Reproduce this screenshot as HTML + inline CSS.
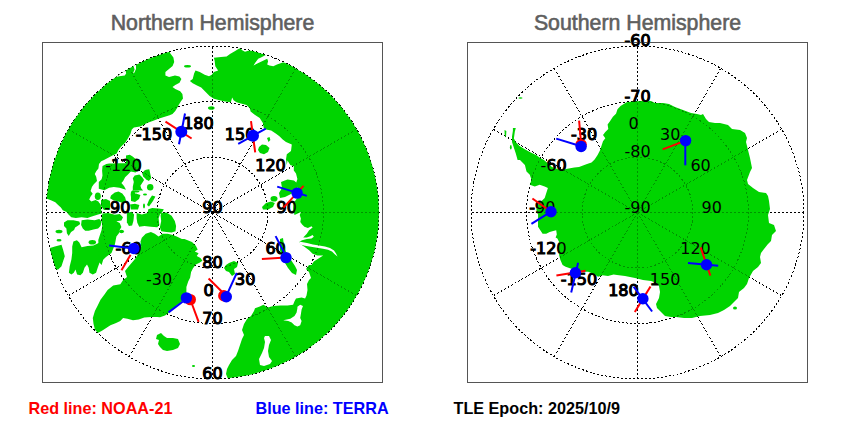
<!DOCTYPE html>
<html><head><meta charset="utf-8">
<style>
html,body{margin:0;padding:0;background:#fff;}
body{width:850px;height:425px;overflow:hidden;position:relative;}
svg{position:absolute;left:0;top:0;}
.lab{font-family:"DejaVu Sans",sans-serif;font-size:16px;fill:#000;}
.labb{stroke:#000;stroke-width:1.0px;}
.title{font-family:"Liberation Sans",Arial,sans-serif;font-size:21.3px;fill:#5f5f5f;stroke:#5f5f5f;stroke-width:0.6px;}
.leg{font-family:"Liberation Sans",Arial,sans-serif;font-size:16.2px;font-weight:bold;}
</style></head><body>
<svg width="850" height="425" viewBox="0 0 850 425">
<defs>
<clipPath id="cl"><circle cx="212.5" cy="212.5" r="166.5"/></clipPath>
<clipPath id="cr"><circle cx="637.5" cy="212.5" r="166.5"/></clipPath>
</defs>
<text class="title" x="212.5" y="30.3" text-anchor="middle">Northern Hemisphere</text>
<text class="title" x="637.5" y="30.3" text-anchor="middle">Southern Hemisphere</text>
<circle cx="212.5" cy="212.5" r="55.5" stroke="#000" stroke-width="1" stroke-dasharray="2 2" fill="none" shape-rendering="crispEdges"/>
<circle cx="212.5" cy="212.5" r="111.0" stroke="#000" stroke-width="1" stroke-dasharray="2 2" fill="none" shape-rendering="crispEdges"/>
<circle cx="212.5" cy="212.5" r="166.5" stroke="#000" stroke-width="1" stroke-dasharray="2 2" fill="none" shape-rendering="crispEdges"/>
<line x1="212.5" y1="212.5" x2="212.50" y2="379.00" stroke="#000" stroke-width="1" stroke-dasharray="2 2" fill="none" shape-rendering="crispEdges"/>
<line x1="212.5" y1="212.5" x2="295.75" y2="356.69" stroke="#000" stroke-width="1" stroke-dasharray="2 2" fill="none" shape-rendering="crispEdges"/>
<line x1="212.5" y1="212.5" x2="356.69" y2="295.75" stroke="#000" stroke-width="1" stroke-dasharray="2 2" fill="none" shape-rendering="crispEdges"/>
<line x1="212.5" y1="212.5" x2="379.00" y2="212.50" stroke="#000" stroke-width="1" stroke-dasharray="2 2" fill="none" shape-rendering="crispEdges"/>
<line x1="212.5" y1="212.5" x2="356.69" y2="129.25" stroke="#000" stroke-width="1" stroke-dasharray="2 2" fill="none" shape-rendering="crispEdges"/>
<line x1="212.5" y1="212.5" x2="295.75" y2="68.31" stroke="#000" stroke-width="1" stroke-dasharray="2 2" fill="none" shape-rendering="crispEdges"/>
<line x1="212.5" y1="212.5" x2="212.50" y2="46.00" stroke="#000" stroke-width="1" stroke-dasharray="2 2" fill="none" shape-rendering="crispEdges"/>
<line x1="212.5" y1="212.5" x2="129.25" y2="68.31" stroke="#000" stroke-width="1" stroke-dasharray="2 2" fill="none" shape-rendering="crispEdges"/>
<line x1="212.5" y1="212.5" x2="68.31" y2="129.25" stroke="#000" stroke-width="1" stroke-dasharray="2 2" fill="none" shape-rendering="crispEdges"/>
<line x1="212.5" y1="212.5" x2="46.00" y2="212.50" stroke="#000" stroke-width="1" stroke-dasharray="2 2" fill="none" shape-rendering="crispEdges"/>
<line x1="212.5" y1="212.5" x2="68.31" y2="295.75" stroke="#000" stroke-width="1" stroke-dasharray="2 2" fill="none" shape-rendering="crispEdges"/>
<line x1="212.5" y1="212.5" x2="129.25" y2="356.69" stroke="#000" stroke-width="1" stroke-dasharray="2 2" fill="none" shape-rendering="crispEdges"/>
<circle cx="637.5" cy="212.5" r="55.5" stroke="#000" stroke-width="1" stroke-dasharray="2 2" fill="none" shape-rendering="crispEdges"/>
<circle cx="637.5" cy="212.5" r="111.0" stroke="#000" stroke-width="1" stroke-dasharray="2 2" fill="none" shape-rendering="crispEdges"/>
<circle cx="637.5" cy="212.5" r="166.5" stroke="#000" stroke-width="1" stroke-dasharray="2 2" fill="none" shape-rendering="crispEdges"/>
<line x1="637.5" y1="212.5" x2="637.50" y2="379.00" stroke="#000" stroke-width="1" stroke-dasharray="2 2" fill="none" shape-rendering="crispEdges"/>
<line x1="637.5" y1="212.5" x2="720.75" y2="356.69" stroke="#000" stroke-width="1" stroke-dasharray="2 2" fill="none" shape-rendering="crispEdges"/>
<line x1="637.5" y1="212.5" x2="781.69" y2="295.75" stroke="#000" stroke-width="1" stroke-dasharray="2 2" fill="none" shape-rendering="crispEdges"/>
<line x1="637.5" y1="212.5" x2="804.00" y2="212.50" stroke="#000" stroke-width="1" stroke-dasharray="2 2" fill="none" shape-rendering="crispEdges"/>
<line x1="637.5" y1="212.5" x2="781.69" y2="129.25" stroke="#000" stroke-width="1" stroke-dasharray="2 2" fill="none" shape-rendering="crispEdges"/>
<line x1="637.5" y1="212.5" x2="720.75" y2="68.31" stroke="#000" stroke-width="1" stroke-dasharray="2 2" fill="none" shape-rendering="crispEdges"/>
<line x1="637.5" y1="212.5" x2="637.50" y2="46.00" stroke="#000" stroke-width="1" stroke-dasharray="2 2" fill="none" shape-rendering="crispEdges"/>
<line x1="637.5" y1="212.5" x2="554.25" y2="68.31" stroke="#000" stroke-width="1" stroke-dasharray="2 2" fill="none" shape-rendering="crispEdges"/>
<line x1="637.5" y1="212.5" x2="493.31" y2="129.25" stroke="#000" stroke-width="1" stroke-dasharray="2 2" fill="none" shape-rendering="crispEdges"/>
<line x1="637.5" y1="212.5" x2="471.00" y2="212.50" stroke="#000" stroke-width="1" stroke-dasharray="2 2" fill="none" shape-rendering="crispEdges"/>
<line x1="637.5" y1="212.5" x2="493.31" y2="295.75" stroke="#000" stroke-width="1" stroke-dasharray="2 2" fill="none" shape-rendering="crispEdges"/>
<line x1="637.5" y1="212.5" x2="554.25" y2="356.69" stroke="#000" stroke-width="1" stroke-dasharray="2 2" fill="none" shape-rendering="crispEdges"/>
<g class="lab labb">
<text x="212.5" y="212.50" text-anchor="middle">90</text>
<text x="212.5" y="268.00" text-anchor="middle">80</text>
<text x="212.5" y="323.50" text-anchor="middle">70</text>
<text x="212.5" y="379.00" text-anchor="middle">60</text>
<text x="172.07" y="140.40" text-anchor="end">-150</text>
<text x="141.60" y="170.88" text-anchor="end">-120</text>
<text x="130.45" y="212.50" text-anchor="end">-90</text>
<text x="141.60" y="254.12" text-anchor="end">-60</text>
<text x="172.07" y="284.60" text-anchor="end">-30</text>
<text x="213.70" y="295.75" text-anchor="end">0</text>
<text x="255.32" y="284.60" text-anchor="end">30</text>
<text x="285.80" y="254.12" text-anchor="end">60</text>
<text x="296.95" y="212.50" text-anchor="end">90</text>
<text x="285.80" y="170.88" text-anchor="end">120</text>
<text x="255.32" y="140.40" text-anchor="end">150</text>
<text x="213.70" y="129.25" text-anchor="end">180</text>
<text x="637.5" y="212.50" text-anchor="middle">-90</text>
<text x="637.5" y="157.00" text-anchor="middle">-80</text>
<text x="637.5" y="101.50" text-anchor="middle">-70</text>
<text x="637.5" y="46.00" text-anchor="middle">-60</text>
<text x="597.08" y="284.60" text-anchor="end">-150</text>
<text x="566.60" y="254.12" text-anchor="end">-120</text>
<text x="555.45" y="212.50" text-anchor="end">-90</text>
<text x="566.60" y="170.88" text-anchor="end">-60</text>
<text x="597.08" y="140.40" text-anchor="end">-30</text>
<text x="638.70" y="129.25" text-anchor="end">0</text>
<text x="680.33" y="140.40" text-anchor="end">30</text>
<text x="710.80" y="170.88" text-anchor="end">60</text>
<text x="721.95" y="212.50" text-anchor="end">90</text>
<text x="710.80" y="254.12" text-anchor="end">120</text>
<text x="680.33" y="284.60" text-anchor="end">150</text>
<text x="638.70" y="295.75" text-anchor="end">180</text>
</g>
<g clip-path="url(#cl)">
<polygon points="213.9,57.8 221.0,57.1 226.6,56.4 230.0,54.1 235.6,50.8 239.9,48.0 242.2,50.3 245.0,51.8 249.8,50.3 254.5,51.3 261.0,53.2 265.7,55.0 261.0,57.4 258.2,58.8 255.4,62.6 253.5,65.4 257.3,63.5 262.0,61.2 267.2,58.8 268.1,61.2 267.2,64.5 269.5,65.4 273.3,66.3 277.0,64.5 282.7,62.6 286.4,62.1 291.1,64.5 295.9,67.3 300.0,69.2 310.0,60.0 400.0,100.0 420.0,212.0 400.0,330.0 330.0,400.0 240.0,400.0 232.0,380.0 228.0,379.0 226.0,374.0 227.0,369.0 229.0,365.0 232.0,360.0 236.0,356.0 238.0,351.0 240.0,345.0 242.0,339.0 244.0,335.0 242.0,330.0 244.0,324.0 247.0,319.0 251.0,316.0 254.0,311.0 255.0,308.2 259.2,306.8 263.5,304.7 267.7,307.5 273.4,306.1 280.4,305.4 287.5,305.4 293.1,304.7 294.5,301.2 296.0,298.4 301.6,297.6 305.1,298.4 306.5,295.5 307.5,289.9 307.0,284.0 309.0,280.0 311.0,278.0 309.0,272.0 306.0,269.0 309.0,265.0 311.5,265.0 313.8,261.5 318.5,258.5 323.2,255.6 317.4,255.6 312.6,253.8 309.1,250.3 304.4,246.8 300.9,244.4 299.1,242.1 302.1,240.3 306.8,239.1 311.5,238.5 313.8,236.8 312.6,235.0 310.3,236.2 306.8,237.4 303.2,237.4 304.4,236.2 306.8,233.8 309.1,230.3 312.6,227.4 311.5,226.2 307.9,227.9 304.4,226.8 302.1,224.4 300.3,222.1 300.9,218.5 299.7,215.0 301.0,212.0 294.5,215.0 293.1,208.6 293.8,203.0 297.4,197.4 301.6,191.7 297.4,187.5 296.0,183.2 297.4,179.0 296.0,173.4 293.8,170.5 293.8,166.3 290.3,164.9 287.5,160.6 286.8,165.0 286.0,159.3 286.8,154.3 291.0,151.0 291.8,144.4 286.0,142.0 282.7,139.5 279.4,136.2 276.1,133.7 271.2,130.4 266.2,129.6 263.8,128.0 262.9,123.0 259.7,118.1 254.7,114.8 250.6,111.5 249.8,108.2 246.5,104.9 239.9,103.2 236.5,102.3 233.6,100.2 232.2,97.4 230.8,102.3 225.2,101.6 219.5,100.2 213.9,98.8 209.6,95.9 205.4,91.7 201.2,87.5 197.0,85.4 192.7,83.2 189.9,81.1 192.7,79.0 194.1,73.4 195.5,70.5 199.8,72.0 204.7,74.8 209.0,76.2 211.8,74.8 213.9,72.0 218.1,70.5 215.3,66.3 214.6,60.6" fill="#00d400"/>
<polygon points="168.0,40.0 170.0,53.0 173.4,57.6 174.2,62.0 172.6,66.0 169.0,69.0 165.4,72.0 165.4,75.6 169.0,77.0 175.0,75.6 179.4,76.4 181.4,79.0 179.5,82.8 175.3,85.0 172.5,87.0 175.3,89.0 180.2,91.3 182.4,94.1 183.0,98.4 181.0,101.2 178.8,104.7 177.4,107.5 175.3,111.0 172.5,113.9 169.6,115.3 164.0,117.0 158.4,118.8 152.7,121.0 147.0,123.0 142.8,125.2 140.0,126.6 133.9,127.5 131.8,129.6 130.4,133.9 128.2,138.0 125.4,142.4 121.2,146.6 118.4,150.0 116.7,153.5 112.5,155.6 108.2,157.8 104.0,159.9 101.2,161.3 99.0,164.0 98.4,168.4 96.2,171.2 94.8,174.0 96.2,176.8 97.0,181.0 94.0,184.0 92.0,186.7 90.6,191.0 92.7,193.8 90.6,196.6 89.2,199.4 91.3,201.5 95.5,200.0 98.4,201.5 100.5,205.0 101.2,210.0 101.8,213.5 98.1,214.4 91.0,216.7 87.5,217.9 81.6,217.3 75.8,217.9 71.3,217.3 68.5,214.5 66.6,212.1 62.8,210.2 60.9,207.4 58.1,205.1 55.3,202.2 51.5,200.4 46.4,198.5 30.0,198.0 30.0,40.0 100.0,30.0" fill="#00d400"/>
<polygon points="49.9,248.1 54.9,246.4 61.5,244.8 63.1,249.7 64.8,256.3 63.1,261.2 61.5,266.2 58.2,269.5 55.7,269.5 45.0,270.0 45.0,248.0" fill="#00d400"/>
<polygon points="73.4,241.4 76.9,240.2 79.3,242.6 81.6,247.3 87.5,246.1 93.4,245.5 98.1,243.2 101.6,241.4 105.0,240.0 107.0,247.0 106.0,254.7 101.8,258.0 99.4,262.9 97.7,267.8 96.1,272.8 92.8,274.4 89.5,272.8 88.7,267.8 87.0,264.5 84.5,267.8 82.9,272.8 80.4,275.2 77.1,274.4 75.5,269.5 73.8,272.8 71.4,274.4 68.9,272.8 69.7,266.2 71.4,259.6 72.2,253.0 72.2,246.4" fill="#00d400"/>
<polygon points="64.0,222.6 67.5,220.2 73.4,220.2 79.3,221.4 80.2,223.9 77.9,225.8 75.1,227.6 74.1,230.0 71.1,232.0 68.7,236.1 66.9,233.2 66.4,228.5 64.0,226.1" fill="#00d400"/>
<polygon points="81.6,220.2 87.5,219.6 94.6,220.2 99.3,219.1 101.6,221.4 100.5,226.1 98.1,228.5 93.4,229.6 88.7,230.8 85.2,230.8 82.8,228.5 81.1,224.9" fill="#00d400"/>
<ellipse cx="92.3" cy="242.3" rx="3.7" ry="2.3" fill="#00d400"/>
<ellipse cx="59" cy="231.5" rx="3.5" ry="1.8" fill="#00d400"/>
<ellipse cx="59" cy="240.2" rx="2.5" ry="1.2" fill="#00d400"/>
<polygon points="102.4,213.5 108.2,213.1 114.8,214.7 119.7,213.9 123.0,217.2 121.4,220.5 116.4,221.3 119.7,222.9 121.4,227.1 119.7,230.0 118.9,233.3 116.4,236.6 115.6,240.7 114.8,244.8 113.1,248.9 111.5,253.1 109.0,254.7 105.7,257.2 103.2,259.7 101.6,265.0 99.0,262.0 98.3,239.9 99.9,234.9 101.6,230.0 102.2,226.0 101.6,219.1" fill="#00d400"/>
<ellipse cx="121.5" cy="231.5" rx="2.5" ry="1.8" fill="#00d400"/>
<polygon points="141.8,237.7 145.7,233.8 150.9,231.9 154.8,233.8 158.6,236.4 162.5,233.8 167.7,233.8 172.9,235.1 176.7,236.4 181.9,239.0 184.5,239.1 192.0,242.0 195.8,245.7 197.7,249.5 194.8,251.4 198.6,253.2 196.7,256.1 200.5,258.0 202.4,260.8 199.5,262.7 195.8,264.5 193.0,268.3 191.1,272.1 190.1,277.7 188.2,281.5 186.4,287.1 186.4,292.8 182.6,297.5 183.0,300.0 182.0,301.5 176.0,306.0 171.0,310.0 168.5,313.0 165.0,315.5 160.0,317.3 157.0,317.0 151.4,317.0 144.3,317.4 138.7,319.5 133.0,320.3 127.4,318.8 123.1,318.1 120.3,321.0 116.1,323.1 110.4,325.2 106.2,328.0 102.0,330.8 97.7,333.0 94.9,329.4 93.5,323.8 92.8,318.1 94.9,311.1 97.7,305.4 100.5,299.8 104.8,294.1 107.6,289.9 113.2,285.6 120.3,284.2 123.1,280.0 127.0,277.0 125.0,271.0 129.0,266.0 135.0,259.0 140.5,250.0 141.2,246.7 140.5,241.6" fill="#00d400"/>
<polygon points="157.0,335.0 161.0,333.0 164.0,336.0 167.0,338.0 173.0,338.0 178.0,339.0 180.0,344.0 178.0,348.0 173.0,350.0 167.0,351.0 163.0,350.0 160.0,347.0 158.0,344.0 159.0,340.0 156.0,339.0" fill="#00d400"/>
<ellipse cx="193.5" cy="366" rx="1.6" ry="1.0" fill="#00d400"/>
<polygon points="229.0,263.0 234.0,261.0 238.0,263.0 237.0,267.0 234.0,269.0 235.0,274.0 232.0,276.0 229.0,272.0 226.0,271.0 224.0,268.0 226.0,265.0" fill="#00d400"/>
<polygon points="280.0,239.0 283.0,238.0 284.0,246.0 286.0,252.0 291.0,260.0 295.0,266.0 297.0,270.0 296.0,275.0 292.0,273.0 288.0,268.0 285.0,263.0 282.0,259.0 280.0,250.0" fill="#00d400"/>
<polygon points="259.0,147.0 262.0,144.5 266.0,145.0 269.5,148.0 268.0,152.0 264.0,154.3 260.0,153.0 258.0,150.0" fill="#00d400"/>
<polygon points="267.0,138.0 269.5,137.0 270.4,140.0 268.5,142.0" fill="#00d400"/>
<polygon points="281.0,182.0 287.5,179.5 294.0,180.5 298.0,184.0 297.0,191.0 291.0,194.0 285.0,197.0 280.0,198.0 279.0,193.0 282.0,188.0" fill="#00d400"/>
<ellipse cx="274" cy="198.8" rx="3.5" ry="2.8" fill="#00d400"/>
<polygon points="262.0,207.0 266.0,203.0 271.0,201.6 274.8,203.0 273.0,207.0 268.0,209.4 263.0,209.4" fill="#00d400"/>
<ellipse cx="211.3" cy="108" rx="3.3" ry="1.8" fill="#00d400"/>
<ellipse cx="187.5" cy="66.3" rx="3.5" ry="1.3" fill="#00d400"/>
<polygon points="102.5,166.0 106.3,164.1 109.1,163.5 115.0,163.5 120.0,163.2 126.0,163.2 126.0,155.6 129.8,154.7 132.6,156.6 135.0,158.5 139.4,162.0 139.4,168.8 135.6,172.6 130.8,171.6 128.0,174.5 125.1,177.3 123.2,181.1 121.4,182.9 124.0,186.0 126.0,189.7 119.5,187.8 113.8,186.9 109.1,187.8 104.4,190.2 98.8,188.8 98.8,182.0 101.6,179.2 102.5,175.4 102.1,170.7" fill="#00d400"/>
<polygon points="146.0,169.8 149.3,169.3 150.2,173.5 151.2,178.2 148.8,181.1 146.0,179.2 143.2,176.4 142.2,173.5 144.1,170.7" fill="#00d400"/>
<polygon points="134.7,175.4 139.4,174.5 142.2,177.3 144.1,180.1 142.2,183.0 140.4,185.8 141.3,188.6 143.2,190.6 132.8,190.6 132.8,186.7 133.8,182.0 132.8,178.2" fill="#00d400"/>
<ellipse cx="150.2" cy="187.3" rx="3.2" ry="3.2" fill="#00d400"/>
<ellipse cx="135.7" cy="191.5" rx="3.7" ry="1.0" fill="#00d400"/>
<polygon points="131.0,194.0 136.0,193.5 140.4,195.0 139.0,199.0 135.0,202.0 131.0,201.0" fill="#00d400"/>
<ellipse cx="145" cy="194.5" rx="2" ry="1" fill="#00d400"/>
<polygon points="152.0,195.4 155.4,196.5 153.0,201.0 149.0,206.6 147.0,205.0 149.0,200.0" fill="#00d400"/>
<ellipse cx="144" cy="206" rx="1" ry="2.4" fill="#00d400"/>
<polygon points="130.0,204.5 135.0,203.8 139.4,205.0 138.0,209.5 131.0,209.5" fill="#00d400"/>
<polygon points="111.0,195.4 114.8,192.5 118.5,191.6 122.3,193.5 125.1,197.2 126.1,201.0 123.2,202.9 116.6,201.0 112.9,200.1 110.1,198.2" fill="#00d400"/>
<ellipse cx="97.8" cy="196.3" rx="3" ry="3.8" fill="#00d400"/>
<ellipse cx="97.8" cy="206.2" rx="3" ry="3.3" fill="#00d400"/>
<polygon points="101.0,200.0 106.0,199.0 110.0,201.0 110.0,209.0 104.0,210.0 101.0,206.0" fill="#00d400"/>
<ellipse cx="132.9" cy="194.4" rx="2.2" ry="3.8" fill="#00d400"/>
<polygon points="126.9,213.1 131.5,211.8 134.1,214.4 133.4,220.9 132.1,225.4 128.9,226.0 126.9,222.2" fill="#00d400"/>
<polygon points="136.6,213.1 141.8,214.4 147.6,213.1 148.3,209.2 152.2,207.9 158.6,208.6 163.8,209.2 162.5,211.8 159.9,214.4 158.6,218.3 159.3,224.8 157.3,227.3 150.9,226.7 144.4,226.0 139.2,226.7 137.3,222.8 136.6,218.3" fill="#00d400"/>
<polygon points="161.2,213.1 166.4,212.5 171.6,215.7 174.8,220.9 176.1,226.0 175.5,231.2 171.6,232.5 166.4,231.9 161.2,231.2 159.9,227.3 161.2,220.9 160.6,215.7" fill="#00d400"/>
<polygon points="100.0,86.5 105.0,83.9 112.0,78.3 119.1,76.2 124.8,75.5 126.2,73.3 125.5,70.5 126.9,68.4 129.7,67.0 133.2,65.6 133.9,67.0 134.6,69.8 133.2,72.6 133.9,73.5 136.0,69.1 136.0,64.9 138.9,62.8 143.0,60.0 133.0,58.0 112.0,70.0 98.0,80.0" fill="#fff"/>
<polygon points="297.4,306.8 300.2,304.7 303.0,306.1 301.6,309.6 300.9,313.9 300.2,318.1 301.6,321.0 300.2,325.2 297.4,326.6 294.5,325.2 291.7,322.4 288.2,321.0 283.2,320.2 290.3,318.8 294.5,316.0 296.6,312.5 297.4,308.2" fill="#fff"/>
<polygon points="299.0,241.5 307.0,243.0 313.0,244.5 319.0,245.5 325.0,246.5 330.0,248.0 334.0,250.5 336.0,253.5 337.5,256.5 335.0,254.5 332.0,251.5 328.0,249.8 323.0,248.8 317.0,247.8 311.0,246.8 305.0,245.8 300.0,244.5" fill="#fff"/>
<polygon points="265.0,336.0 269.0,336.0 271.0,340.0 269.0,345.0 268.0,351.0 269.0,357.0 272.0,361.0 270.0,364.0 264.0,366.0 260.0,365.0 259.0,359.0 262.0,353.0 264.0,348.0 265.0,342.0 264.0,338.0" fill="#fff"/>
</g>
<g clip-path="url(#cr)">
<polygon points="512.9,128.0 515.8,128.0 514.8,131.8 513.9,138.4 515.8,142.1 519.5,145.9 525.2,149.6 530.8,152.5 536.5,155.3 540.2,158.1 544.0,160.0 552.0,167.0 560.0,170.0 566.0,169.0 574.3,167.4 579.0,167.0 587.0,164.0 591.5,162.6 594.6,159.5 597.6,155.0 599.9,150.4 601.5,145.8 603.0,141.2 605.3,138.2 603.0,135.1 605.3,132.1 608.3,129.0 607.6,124.4 609.8,121.4 612.9,116.8 616.0,113.7 617.5,109.2 620.5,106.1 626.6,102.3 633.0,101.5 641.0,101.0 651.0,101.0 655.0,103.0 663.0,103.0 669.0,104.0 675.0,107.0 683.0,110.0 691.0,113.0 697.0,114.0 701.0,115.0 703.0,114.0 706.0,119.0 709.0,122.0 715.0,123.0 720.0,123.0 728.0,125.0 732.0,129.0 740.0,130.0 745.0,133.0 747.0,138.0 746.0,142.0 748.0,150.0 750.0,158.0 752.0,168.0 750.0,172.0 747.0,180.0 748.0,184.0 753.0,188.0 759.0,192.0 766.0,193.0 768.0,196.0 769.0,201.0 770.0,209.0 768.0,215.0 769.0,223.0 774.0,225.0 776.0,231.0 772.0,235.0 771.0,241.0 768.0,244.0 764.0,249.0 761.0,253.0 760.0,257.0 761.0,263.0 758.0,267.0 753.0,271.0 749.0,278.0 747.0,284.0 744.0,288.0 739.0,292.0 738.0,298.0 734.0,302.0 730.0,306.0 724.0,310.0 718.0,313.0 710.0,315.0 700.0,316.0 692.0,318.0 684.0,318.0 676.0,317.0 671.0,317.0 665.0,316.0 661.0,312.0 657.0,308.0 656.0,304.0 659.0,298.0 660.0,292.0 659.0,286.0 657.0,283.0 651.0,281.0 643.0,280.0 635.0,278.0 625.0,276.0 617.0,275.0 613.6,274.6 608.0,276.0 602.4,275.3 598.1,276.7 593.9,273.9 588.2,271.8 581.2,271.8 574.1,269.6 569.9,268.2 565.6,266.8 562.6,265.0 560.3,259.7 559.1,255.0 559.1,250.3 558.5,245.6 559.1,242.1 557.4,238.5 555.6,237.4 556.8,234.4 556.2,230.3 553.2,230.9 549.7,232.0 546.2,233.8 542.6,233.8 540.3,230.3 538.0,226.8 538.0,222.0 538.1,214.4 536.4,209.4 538.1,204.5 541.4,201.2 544.7,197.9 546.3,193.0 547.9,188.0 544.7,186.4 539.7,184.7 534.8,186.4 529.8,184.7 531.5,179.8 529.8,174.8 526.5,171.5 524.9,164.9 520.0,160.0 517.6,160.0 515.8,153.4 513.9,147.8 512.0,142.1 512.0,136.5 512.9,130.8" fill="#00d400"/>
<polygon points="504.5,130.0 506.4,131.0 506.0,137.4 504.8,136.0" fill="#00d400"/>
<ellipse cx="510.8" cy="147.3" rx="0.9" ry="2.3" fill="#00d400"/>
<ellipse cx="520.5" cy="98" rx="2" ry="0.8" fill="#00d400"/>
<ellipse cx="735" cy="308" rx="2" ry="1.5" fill="#00d400"/>
</g>
<g opacity="0.3">
<circle cx="212.5" cy="212.5" r="55.5" stroke="#000" stroke-width="1" stroke-dasharray="2 2" fill="none" shape-rendering="crispEdges"/>
<circle cx="212.5" cy="212.5" r="111.0" stroke="#000" stroke-width="1" stroke-dasharray="2 2" fill="none" shape-rendering="crispEdges"/>
<circle cx="212.5" cy="212.5" r="166.5" stroke="#000" stroke-width="1" stroke-dasharray="2 2" fill="none" shape-rendering="crispEdges"/>
<line x1="212.5" y1="212.5" x2="212.50" y2="379.00" stroke="#000" stroke-width="1" stroke-dasharray="2 2" fill="none" shape-rendering="crispEdges"/>
<line x1="212.5" y1="212.5" x2="295.75" y2="356.69" stroke="#000" stroke-width="1" stroke-dasharray="2 2" fill="none" shape-rendering="crispEdges"/>
<line x1="212.5" y1="212.5" x2="356.69" y2="295.75" stroke="#000" stroke-width="1" stroke-dasharray="2 2" fill="none" shape-rendering="crispEdges"/>
<line x1="212.5" y1="212.5" x2="379.00" y2="212.50" stroke="#000" stroke-width="1" stroke-dasharray="2 2" fill="none" shape-rendering="crispEdges"/>
<line x1="212.5" y1="212.5" x2="356.69" y2="129.25" stroke="#000" stroke-width="1" stroke-dasharray="2 2" fill="none" shape-rendering="crispEdges"/>
<line x1="212.5" y1="212.5" x2="295.75" y2="68.31" stroke="#000" stroke-width="1" stroke-dasharray="2 2" fill="none" shape-rendering="crispEdges"/>
<line x1="212.5" y1="212.5" x2="212.50" y2="46.00" stroke="#000" stroke-width="1" stroke-dasharray="2 2" fill="none" shape-rendering="crispEdges"/>
<line x1="212.5" y1="212.5" x2="129.25" y2="68.31" stroke="#000" stroke-width="1" stroke-dasharray="2 2" fill="none" shape-rendering="crispEdges"/>
<line x1="212.5" y1="212.5" x2="68.31" y2="129.25" stroke="#000" stroke-width="1" stroke-dasharray="2 2" fill="none" shape-rendering="crispEdges"/>
<line x1="212.5" y1="212.5" x2="46.00" y2="212.50" stroke="#000" stroke-width="1" stroke-dasharray="2 2" fill="none" shape-rendering="crispEdges"/>
<line x1="212.5" y1="212.5" x2="68.31" y2="295.75" stroke="#000" stroke-width="1" stroke-dasharray="2 2" fill="none" shape-rendering="crispEdges"/>
<line x1="212.5" y1="212.5" x2="129.25" y2="356.69" stroke="#000" stroke-width="1" stroke-dasharray="2 2" fill="none" shape-rendering="crispEdges"/>
<circle cx="637.5" cy="212.5" r="55.5" stroke="#000" stroke-width="1" stroke-dasharray="2 2" fill="none" shape-rendering="crispEdges"/>
<circle cx="637.5" cy="212.5" r="111.0" stroke="#000" stroke-width="1" stroke-dasharray="2 2" fill="none" shape-rendering="crispEdges"/>
<circle cx="637.5" cy="212.5" r="166.5" stroke="#000" stroke-width="1" stroke-dasharray="2 2" fill="none" shape-rendering="crispEdges"/>
<line x1="637.5" y1="212.5" x2="637.50" y2="379.00" stroke="#000" stroke-width="1" stroke-dasharray="2 2" fill="none" shape-rendering="crispEdges"/>
<line x1="637.5" y1="212.5" x2="720.75" y2="356.69" stroke="#000" stroke-width="1" stroke-dasharray="2 2" fill="none" shape-rendering="crispEdges"/>
<line x1="637.5" y1="212.5" x2="781.69" y2="295.75" stroke="#000" stroke-width="1" stroke-dasharray="2 2" fill="none" shape-rendering="crispEdges"/>
<line x1="637.5" y1="212.5" x2="804.00" y2="212.50" stroke="#000" stroke-width="1" stroke-dasharray="2 2" fill="none" shape-rendering="crispEdges"/>
<line x1="637.5" y1="212.5" x2="781.69" y2="129.25" stroke="#000" stroke-width="1" stroke-dasharray="2 2" fill="none" shape-rendering="crispEdges"/>
<line x1="637.5" y1="212.5" x2="720.75" y2="68.31" stroke="#000" stroke-width="1" stroke-dasharray="2 2" fill="none" shape-rendering="crispEdges"/>
<line x1="637.5" y1="212.5" x2="637.50" y2="46.00" stroke="#000" stroke-width="1" stroke-dasharray="2 2" fill="none" shape-rendering="crispEdges"/>
<line x1="637.5" y1="212.5" x2="554.25" y2="68.31" stroke="#000" stroke-width="1" stroke-dasharray="2 2" fill="none" shape-rendering="crispEdges"/>
<line x1="637.5" y1="212.5" x2="493.31" y2="129.25" stroke="#000" stroke-width="1" stroke-dasharray="2 2" fill="none" shape-rendering="crispEdges"/>
<line x1="637.5" y1="212.5" x2="471.00" y2="212.50" stroke="#000" stroke-width="1" stroke-dasharray="2 2" fill="none" shape-rendering="crispEdges"/>
<line x1="637.5" y1="212.5" x2="493.31" y2="295.75" stroke="#000" stroke-width="1" stroke-dasharray="2 2" fill="none" shape-rendering="crispEdges"/>
<line x1="637.5" y1="212.5" x2="554.25" y2="356.69" stroke="#000" stroke-width="1" stroke-dasharray="2 2" fill="none" shape-rendering="crispEdges"/>
</g>
<rect x="42.5" y="42.5" width="340" height="340" fill="none" stroke="#555" stroke-width="1"/>
<rect x="467.5" y="42.5" width="340" height="340" fill="none" stroke="#555" stroke-width="1"/>
<g class="lab">
<text x="212.5" y="212.50" text-anchor="middle">90</text>
<text x="212.5" y="268.00" text-anchor="middle">80</text>
<text x="212.5" y="323.50" text-anchor="middle">70</text>
<text x="212.5" y="379.00" text-anchor="middle">60</text>
<text x="172.07" y="140.40" text-anchor="end">-150</text>
<text x="141.60" y="170.88" text-anchor="end">-120</text>
<text x="130.45" y="212.50" text-anchor="end">-90</text>
<text x="141.60" y="254.12" text-anchor="end">-60</text>
<text x="172.07" y="284.60" text-anchor="end">-30</text>
<text x="213.70" y="295.75" text-anchor="end">0</text>
<text x="255.32" y="284.60" text-anchor="end">30</text>
<text x="285.80" y="254.12" text-anchor="end">60</text>
<text x="296.95" y="212.50" text-anchor="end">90</text>
<text x="285.80" y="170.88" text-anchor="end">120</text>
<text x="255.32" y="140.40" text-anchor="end">150</text>
<text x="213.70" y="129.25" text-anchor="end">180</text>
<text x="637.5" y="212.50" text-anchor="middle">-90</text>
<text x="637.5" y="157.00" text-anchor="middle">-80</text>
<text x="637.5" y="101.50" text-anchor="middle">-70</text>
<text x="637.5" y="46.00" text-anchor="middle">-60</text>
<text x="597.08" y="284.60" text-anchor="end">-150</text>
<text x="566.60" y="254.12" text-anchor="end">-120</text>
<text x="555.45" y="212.50" text-anchor="end">-90</text>
<text x="566.60" y="170.88" text-anchor="end">-60</text>
<text x="597.08" y="140.40" text-anchor="end">-30</text>
<text x="638.70" y="129.25" text-anchor="end">0</text>
<text x="680.33" y="140.40" text-anchor="end">30</text>
<text x="710.80" y="170.88" text-anchor="end">60</text>
<text x="721.95" y="212.50" text-anchor="end">90</text>
<text x="710.80" y="254.12" text-anchor="end">120</text>
<text x="680.33" y="284.60" text-anchor="end">150</text>
<text x="638.70" y="295.75" text-anchor="end">180</text>
</g>
<line x1="165.5" y1="121.7" x2="191.6" y2="138.5" stroke="#ff0000" stroke-width="2"/>
<line x1="185" y1="113.5" x2="179" y2="144.2" stroke="#0000ff" stroke-width="2"/>
<circle cx="181.3" cy="131.8" r="6" fill="#0000ff"/>
<line x1="251" y1="121.2" x2="255.2" y2="152.3" stroke="#ff0000" stroke-width="2"/>
<line x1="238.2" y1="143.8" x2="265.8" y2="128.7" stroke="#0000ff" stroke-width="2"/>
<circle cx="253" cy="135.8" r="6" fill="#0000ff"/>
<line x1="283.5" y1="207.6" x2="303.6" y2="185.9" stroke="#ff0000" stroke-width="2"/>
<line x1="277.2" y1="186.6" x2="306.8" y2="195.9" stroke="#0000ff" stroke-width="2"/>
<circle cx="297.1" cy="193.1" r="5.7" fill="#0000ff"/>
<line x1="261.9" y1="259.1" x2="286" y2="257.6" stroke="#ff0000" stroke-width="2"/>
<line x1="275.6" y1="236.1" x2="284.1" y2="252.5" stroke="#0000ff" stroke-width="2"/>
<circle cx="286" cy="257.6" r="5.7" fill="#0000ff"/>
<line x1="208.6" y1="278.5" x2="223" y2="292.7" stroke="#ff0000" stroke-width="2"/>
<circle cx="223.8" cy="295.8" r="5.7" fill="#ff0000"/>
<line x1="236.8" y1="272.9" x2="227.8" y2="292.7" stroke="#0000ff" stroke-width="2"/>
<circle cx="226.3" cy="296.8" r="5.7" fill="#0000ff"/>
<line x1="192" y1="304" x2="198.6" y2="321.8" stroke="#ff0000" stroke-width="2"/>
<circle cx="190.3" cy="299.6" r="5.7" fill="#ff0000"/>
<line x1="182.6" y1="301.7" x2="168.5" y2="312.4" stroke="#0000ff" stroke-width="2"/>
<circle cx="186.4" cy="297.9" r="5.7" fill="#0000ff"/>
<line x1="109.2" y1="245.4" x2="133.8" y2="248.5" stroke="#0000ff" stroke-width="2"/>
<line x1="121.5" y1="270.3" x2="130.6" y2="254.7" stroke="#ff0000" stroke-width="2"/>
<circle cx="133.8" cy="248.5" r="5.7" fill="#0000ff"/>
<line x1="579.1" y1="120.6" x2="580.9" y2="141.2" stroke="#ff0000" stroke-width="2"/>
<circle cx="581.1" cy="144.6" r="5.7" fill="#ff0000"/>
<line x1="556.2" y1="138.6" x2="576.2" y2="144.7" stroke="#0000ff" stroke-width="2"/>
<circle cx="581.1" cy="146.5" r="5.7" fill="#0000ff"/>
<line x1="662.6" y1="149.4" x2="685.6" y2="140.6" stroke="#ff0000" stroke-width="2"/>
<line x1="685.3" y1="140.6" x2="685.3" y2="165.3" stroke="#0000ff" stroke-width="2"/>
<circle cx="685.6" cy="140.6" r="5.7" fill="#0000ff"/>
<line x1="532.4" y1="198.5" x2="551" y2="211.7" stroke="#ff0000" stroke-width="2"/>
<line x1="531.4" y1="223.9" x2="551" y2="211.7" stroke="#0000ff" stroke-width="2"/>
<circle cx="551" cy="211.7" r="5.7" fill="#0000ff"/>
<line x1="556.4" y1="275.4" x2="585.5" y2="270.7" stroke="#ff0000" stroke-width="2"/>
<line x1="578.1" y1="262.7" x2="571.2" y2="292.4" stroke="#0000ff" stroke-width="2"/>
<circle cx="575.4" cy="272.8" r="5.7" fill="#0000ff"/>
<line x1="700.6" y1="247.4" x2="710.4" y2="275.6" stroke="#ff0000" stroke-width="2"/>
<line x1="688" y1="262.9" x2="718.2" y2="265.8" stroke="#0000ff" stroke-width="2"/>
<circle cx="706.5" cy="264.8" r="5.7" fill="#0000ff"/>
<line x1="650.5" y1="286.4" x2="634.8" y2="312" stroke="#ff0000" stroke-width="2"/>
<line x1="633.6" y1="286.6" x2="652.1" y2="311.5" stroke="#0000ff" stroke-width="2"/>
<circle cx="642.9" cy="298.8" r="5.7" fill="#0000ff"/>
<text class="leg" x="28.5" y="413.6" fill="#ff0000">Red line: NOAA-21</text>
<text class="leg" x="255.5" y="413.6" fill="#0000ff">Blue line: TERRA</text>
<text class="leg" x="453.5" y="413.6" fill="#000">TLE Epoch: 2025/10/9</text>
</svg>
</body></html>
